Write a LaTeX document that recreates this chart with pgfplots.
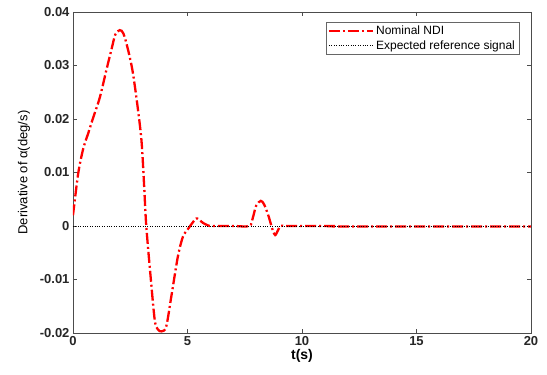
\documentclass[border=0pt]{standalone}
\usepackage{pgfplots}
\pgfplotsset{compat=1.18}
\usepackage{fontspec}
\setmainfont{Liberation Sans}
\begin{document}
\begin{tikzpicture}
\begin{axis}[
  scale only axis,
  width=458pt, height=321pt,
  xmin=0, xmax=20, ymin=-0.02, ymax=0.04,
  scaled y ticks=false,
  xtick={0,5,10,15,20},
  xticklabels={\textbf{0},\textbf{5},\textbf{10},\textbf{15},\textbf{20}},
  ytick={-0.02,-0.01,0,0.01,0.02,0.03,0.04},
  yticklabels={\textbf{-0.02},\textbf{-0.01},\textbf{0},\textbf{0.01},\textbf{0.02},\textbf{0.03},\textbf{0.04}},
  tick align=inside,
  tick style={black!70, thin},
  major tick length=4pt,
  axis line style={black!70, thin},
  ticklabel style={font=\fontsize{13}{15}\selectfont, black!85},
  xlabel={\textbf{t(s)}},
  ylabel={Derivative of α(deg/s)},
  xlabel style={font=\fontsize{14}{16}\selectfont, yshift=3pt},
  ylabel style={font=\fontsize{13}{15}\selectfont, yshift=3pt},
  legend style={at={(0.974,0.969)}, anchor=north east, font=\fontsize{12}{14}\selectfont,
    draw=black!60, inner sep=2pt, row sep=0pt, legend cell align=left},
  legend image code/.code={\draw[#1] (0pt,0pt) -- (44pt,0pt);},
]
\addplot[red, line width=2.3pt, smooth, tension=0.5, dash pattern=on 11pt off 3pt on 2pt off 3pt] coordinates {
(0,0.002) (0.23,0.0099) (0.45,0.0145) (0.67,0.0174) (0.9,0.0205) (1.17,0.024)
(1.45,0.029) (1.68,0.033) (1.85,0.0358) (2.04,0.0366) (2.2,0.0360) (2.4,0.0330)
(2.6,0.029) (2.8,0.023) (2.99,0.016) (3.1,0.008) (3.2,0.0) (3.4,-0.010)
(3.57,-0.0176) (3.7,-0.0193) (3.86,-0.0197) (4.07,-0.0188) (4.3,-0.0130)
(4.58,-0.0057) (4.8,-0.002) (5.0,-0.0007) (5.2,0.0005) (5.38,0.0014) (5.5,0.0012)
(5.67,0.0006) (5.9,0.0001) (6.1,0) (7.0,0) (7.7,0) (7.85,0.0015) (8.0,0.0038)
(8.2,0.0047) (8.35,0.0040) (8.55,0.0017) (8.7,-0.0005) (8.83,-0.0017)
(8.95,-0.0008) (9.07,0) (9.3,0) (10.5,0) (11.5,0) (11.6,-0.0001) (15,-0.0001) (20,-0.0001)
};
\addlegendentry{Nominal NDI}
\addplot[black, thin, dotted] coordinates {(0,0) (20,0)};
\addlegendentry{Expected reference signal}
\end{axis}
\path ([shift={(-73pt,-42pt)}]current axis.south west) rectangle ([shift={(16pt,12pt)}]current axis.north east);
\end{tikzpicture}
\end{document}
